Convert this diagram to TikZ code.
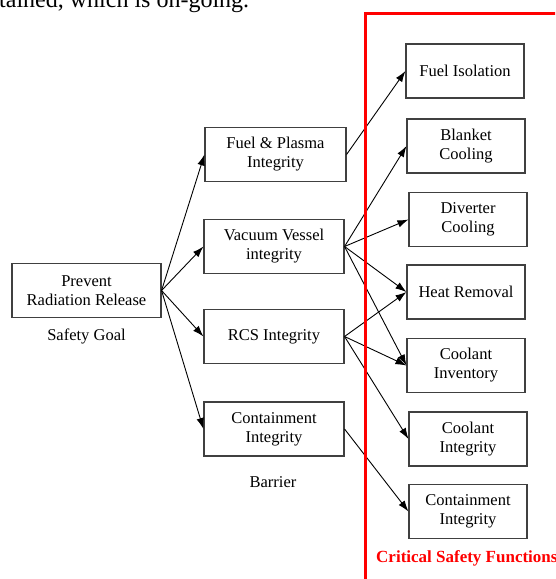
\documentclass[tikz,border=0pt]{standalone}
\usepackage{fontspec}
\setmainfont{Liberation Serif}
\usetikzlibrary{arrows.meta}

\begin{document}
\begin{tikzpicture}[x=1pt, y=-1pt, font=\fontsize{16.5}{19}\selectfont,
  blk/.style={draw=black!75, line width=1.1pt, minimum height=54pt, align=center, inner sep=2pt},
  link/.style={-{Latex[length=11pt, width=7.5pt]}, line width=0.9pt}]
  \useasboundingbox (0,0) rectangle (555,579);
  \clip (0,0) rectangle (555,579);
  % cut-off line of the page text above
  \node[anchor=base west, font=\fontsize{24}{28}\selectfont, inner sep=0pt] (pagetxt) at (-1,7) {tained, which is on-going.};
  % safety goal
  \node[blk, minimum width=149pt] (goal) at (86.5,290.5) {Prevent\\Radiation Release};
  \node[anchor=base] (goallbl) at (86.5,340) {Safety Goal};
  % barriers
  \node[blk, minimum width=141pt] (fp) at (275.5,154.5) {Fuel \& Plasma\\Integrity};
  \node[blk, minimum width=140pt] (vv) at (274,246.5) {Vacuum Vessel\\integrity};
  \node[blk, minimum width=140pt] (rcs) at (274,336.5) {RCS Integrity};
  \node[blk, minimum width=140pt] (cont) at (274,429) {Containment\\Integrity};
  \node[anchor=base] (barlbl) at (273,487) {Barrier};
  % critical safety functions
  \node[blk, minimum width=118pt] (fiso) at (465,71) {Fuel Isolation};
  \node[blk, minimum width=118pt] (blank) at (466,146) {Blanket\\Cooling};
  \node[blk, minimum width=118pt] (divert) at (468,219.5) {Diverter\\Cooling};
  \node[blk, minimum width=118pt] (heat) at (466,292) {Heat Removal};
  \node[blk, minimum width=118pt] (inv) at (466,365.5) {Coolant\\Inventory};
  \node[blk, minimum width=118pt] (cinteg) at (468,439) {Coolant\\Integrity};
  \node[blk, minimum width=118pt] (ccont) at (468,511.5) {Containment\\Integrity};
  % goal -> barriers
  \draw[link] (goal.east) -- (fp.west);
  \draw[link] (goal.east) -- (vv.west);
  \draw[link] (goal.east) -- (rcs.west);
  \draw[link] (goal.east) -- (cont.west);
  % barriers -> functions
  \draw[link] (fp.east) -- (fiso.west);
  \draw[link] (vv.east) -- (blank.west);
  \draw[link] (vv.east) -- (divert.west);
  \draw[link] (vv.east) -- (heat.west);
  \draw[link] (vv.east) -- (inv.west);
  \draw[link] (rcs.east) -- (heat.west);
  \draw[link] (rcs.east) -- (inv.west);
  \draw[link] (rcs.east) -- (cinteg.west);
  \draw[link] (cont.east) -- (ccont.west);
  % red frame of the function column
  \draw[red, line width=3pt] (365,585) |- (560,13.5);
  \node[anchor=base west, text=red, font=\fontsize{17}{20}\selectfont\bfseries, inner sep=0pt] (csflbl) at (376,562) {Critical Safety Functions};
\end{tikzpicture}
\end{document}
